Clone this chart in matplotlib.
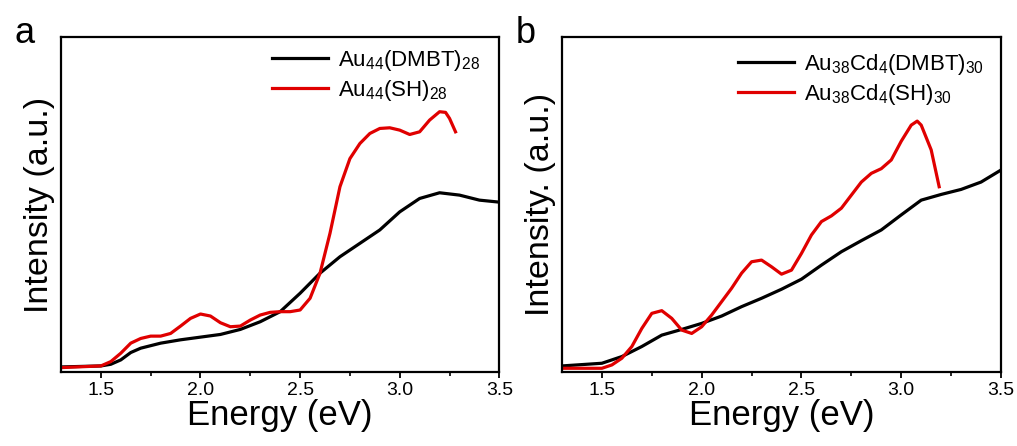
import numpy as np
import matplotlib.pyplot as plt
from matplotlib.ticker import MultipleLocator

plt.rcParams['font.family'] = ['Liberation Sans', 'DejaVu Sans']
plt.rcParams['mathtext.fontset'] = 'custom'
plt.rcParams['mathtext.rm'] = 'Liberation Sans'
plt.rcParams['mathtext.it'] = 'Liberation Sans'

# panel a data (energy in eV, intensity in a.u.)
e_a_dmbt = [1.3, 1.5, 1.55, 1.6, 1.65, 1.7, 1.8, 1.9, 2.0, 2.1, 2.2, 2.3, 2.4, 2.5,
            2.6, 2.7, 2.8, 2.9, 3.0, 3.1, 3.2, 3.3, 3.4, 3.5]
i_a_dmbt = [0.015, 0.018, 0.023, 0.036, 0.058, 0.071, 0.086, 0.096, 0.104, 0.112,
            0.127, 0.150, 0.180, 0.235, 0.295, 0.344, 0.384, 0.424, 0.478, 0.518,
            0.535, 0.528, 0.513, 0.507]

e_a_sh = [1.3, 1.5, 1.55, 1.6, 1.65, 1.7, 1.75, 1.8, 1.85, 1.9, 1.95, 2.0, 2.05, 2.1,
          2.15, 2.2, 2.25, 2.3, 2.35, 2.4, 2.45, 2.5, 2.55, 2.6, 2.65, 2.7, 2.75, 2.8,
          2.85, 2.9, 2.95, 3.0, 3.05, 3.1, 3.15, 3.2, 3.23, 3.25, 3.28]
i_a_sh = [0.013, 0.018, 0.031, 0.056, 0.086, 0.100, 0.107, 0.107, 0.115, 0.137, 0.160,
          0.173, 0.167, 0.147, 0.135, 0.137, 0.155, 0.170, 0.178, 0.180, 0.180, 0.185,
          0.220, 0.295, 0.414, 0.553, 0.637, 0.682, 0.712, 0.727, 0.729, 0.722, 0.709,
          0.717, 0.752, 0.777, 0.775, 0.757, 0.717]

# panel b data
e_b_dmbt = [1.3, 1.5, 1.6, 1.7, 1.8, 1.9, 2.0, 2.1, 2.2, 2.3, 2.4, 2.5, 2.6, 2.7,
            2.8, 2.9, 3.0, 3.1, 3.2, 3.3, 3.4, 3.5]
i_b_dmbt = [0.018, 0.026, 0.046, 0.076, 0.110, 0.127, 0.145, 0.167, 0.195, 0.220,
            0.247, 0.277, 0.319, 0.359, 0.392, 0.424, 0.469, 0.513, 0.530, 0.545,
            0.567, 0.603]

e_b_sh = [1.3, 1.5, 1.55, 1.6, 1.65, 1.7, 1.75, 1.8, 1.85, 1.9, 1.95, 2.0, 2.05, 2.1,
          2.15, 2.2, 2.25, 2.3, 2.35, 2.4, 2.45, 2.5, 2.55, 2.6, 2.65, 2.7, 2.75, 2.8,
          2.85, 2.9, 2.95, 3.0, 3.05, 3.08, 3.1, 3.15, 3.19]
i_b_sh = [0.011, 0.011, 0.021, 0.041, 0.076, 0.130, 0.175, 0.183, 0.160, 0.125, 0.115,
          0.135, 0.170, 0.210, 0.250, 0.295, 0.329, 0.334, 0.314, 0.292, 0.304, 0.354,
          0.409, 0.449, 0.466, 0.489, 0.528, 0.567, 0.593, 0.607, 0.633, 0.689, 0.737,
          0.749, 0.737, 0.663, 0.553]

fig = plt.figure(figsize=(10.17, 4.46), dpi=100)
ax_a = fig.add_axes([0.060, 0.166, 0.431, 0.751])
ax_b = fig.add_axes([0.5526, 0.166, 0.4317, 0.751])

panels = [
    (ax_a, e_a_dmbt, i_a_dmbt, e_a_sh, i_a_sh,
     r'Au$_{44}$(DMBT)$_{28}$', r'Au$_{44}$(SH)$_{28}$', 'Intensity (a.u.)', 'a',
     (0.482, 0.967)),
    (ax_b, e_b_dmbt, i_b_dmbt, e_b_sh, i_b_sh,
     r'Au$_{38}$Cd$_4$(DMBT)$_{30}$', r'Au$_{38}$Cd$_4$(SH)$_{30}$', 'Intensity. (a.u.)', 'b',
     (0.401, 0.955)),
]

for ax, ex1, y1, ex2, y2, lab1, lab2, ylab, letter, leg_pos in panels:
    ax.plot(ex1, y1, color='black', lw=2.3, label=lab1)
    ax.plot(ex2, y2, color='#e00000', lw=2.3, label=lab2)
    ax.set_xlim(1.3, 3.5)
    ax.set_ylim(0, 1)
    ax.xaxis.set_major_locator(MultipleLocator(0.5))
    ax.xaxis.set_minor_locator(MultipleLocator(0.25))
    ax.xaxis.set_major_formatter(plt.FormatStrFormatter('%.1f'))
    ax.tick_params(axis='x', which='major', direction='out', length=4, width=1.3,
                   labelsize=14, pad=3)
    ax.tick_params(axis='x', which='minor', direction='out', length=3, width=1.2)
    ax.set_yticks([])
    for s in ax.spines.values():
        s.set_linewidth(1.6)
    ax.set_xlabel('Energy (eV)', fontsize=25, labelpad=0)
    ax.set_ylabel(ylab, fontsize=24.5, labelpad=4)
    ax.legend(loc='upper left', bbox_to_anchor=leg_pos, frameon=False, fontsize=16,
              handlelength=2.5, handletextpad=0.45, labelspacing=0.2,
              borderaxespad=0, borderpad=0)
    ax.text(-0.105, 0.982, letter, transform=ax.transAxes, fontsize=26,
            ha='left', va='baseline')

fig.savefig('out.png', dpi=100)
